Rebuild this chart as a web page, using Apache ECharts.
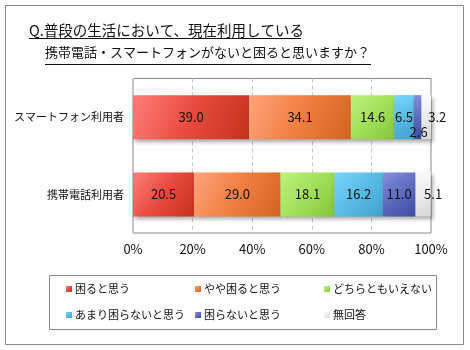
<!DOCTYPE html>
<html><head><meta charset="utf-8">
<script src="https://cdn.jsdelivr.net/npm/echarts@6/dist/echarts.min.js"></script>
<style>html,body{margin:0;padding:0;background:#fff}#c{width:470px;height:350px}</style>
</head><body><div id="c"></div>
<script>
const categories = ['スマートフォン利用者', '携帯電話利用者'];
const seriesNames = ['困ると思う', 'やや困ると思う', 'どちらともいえない', 'あまり困らないと思う', '困らないと思う', '無回答'];
const s1 = [39.0, 20.5];
const s2 = [34.1, 29.0];
const s3 = [14.6, 18.1];
const s4 = [6.5, 16.2];
const s5 = [2.6, 11.0];
const s6 = [3.2, 5.1];
const tickLabels = ['0%', '20%', '40%', '60%', '80%', '100%'];
const titleLine1 = 'Q.普段の生活において、現在利用している';
const titleLine2 = '携帯電話・スマートフォンがないと困ると思いますか？';

const seriesValues = [s1, s2, s3, s4, s5, s6];
const gradients = [
  ['#ff7d78', '#e84a3e', '#c4321c'],
  ['#ffa47a', '#f07e42', '#d2641e'],
  ['#bdf27a', '#a2e05a', '#86c43a'],
  ['#78d4fa', '#58bce6', '#3ea2cc'],
  ['#8490dc', '#5e6cc0', '#3c4aa0'],
  ['#fafafa', '#ececec', '#d6d6d6']
];
// label nudges for narrow segments (presentation only)
const labelOffsets = {
  '4-0': [1, 15],
  '5-0': [11, 0],
  '5-1': [10, 0]
};
const FONT = '"Noto Sans CJK JP", sans-serif';

const chart = echarts.init(document.getElementById('c'), null, {renderer: 'canvas'});
const series = seriesNames.map((name, si) => ({
  name: name,
  type: 'bar',
  stack: 'total',
  barWidth: 44,
  itemStyle: {
    color: new echarts.graphic.LinearGradient(0, 0, 1, 1, [
      {offset: 0, color: gradients[si][0]},
      {offset: 0.5, color: gradients[si][1]},
      {offset: 1, color: gradients[si][2]}
    ]),
    shadowColor: 'rgba(0,0,0,0.35)',
    shadowBlur: 4,
    shadowOffsetX: 2,
    shadowOffsetY: 3
  },
  label: {
    show: true,
    position: 'inside',
    color: '#111',
    fontSize: 13,
    fontFamily: FONT,
    formatter: p => p.value.toFixed(1)
  },
  data: seriesValues[si].map((v, ci) => {
    const off = labelOffsets[si + '-' + ci];
    return off ? {value: v, label: {offset: off}} : v;
  })
}));

const legendCommon = {
  orient: 'vertical',
  icon: 'rect',
  itemWidth: 6,
  itemHeight: 6,
  itemGap: 12,
  top: 277,
  textStyle: {fontSize: 11, fontFamily: FONT, color: '#111', lineHeight: 14, padding: [0, 0, 0, -2]}
};

chart.setOption({
  animation: false,
  textStyle: {fontFamily: FONT},
  grid: {left: 133, right: 39, top: 78.5, bottom: 117, outerBoundsMode: 'none', containLabel: false, show: true, borderColor: '#888', borderWidth: 1, backgroundColor: 'transparent'},
  xAxis: {
    type: 'value', min: 0, max: 100, interval: 20,
    axisLine: {show: false}, axisTick: {show: false},
    splitLine: {show: true, lineStyle: {type: [4, 3], color: '#c8c8c8'}},
    axisLabel: {fontSize: 13, fontFamily: FONT, color: '#111', margin: 10,
      formatter: v => tickLabels[Math.round(v / 20)]}
  },
  yAxis: {
    type: 'category', data: categories, inverse: true,
    axisLine: {show: false}, axisTick: {show: false},
    axisLabel: {fontSize: 11, fontFamily: FONT, color: '#111', margin: 9}
  },
  legend: [
    Object.assign({}, legendCommon, {left: 61, data: [seriesNames[0], seriesNames[3]]}),
    Object.assign({}, legendCommon, {left: 190, data: [seriesNames[1], seriesNames[4]]}),
    Object.assign({}, legendCommon, {left: 319, data: [seriesNames[2], seriesNames[5]]})
  ],
  graphic: [
    {type: 'rect', shape: {x: 5.5, y: 5.5, width: 458, height: 339}, style: {fill: 'none', stroke: '#888', lineWidth: 1}, silent: true},
    {type: 'rect', shape: {x: 49.5, y: 275.5, width: 387, height: 54}, style: {fill: 'none', stroke: '#888', lineWidth: 1}, silent: true},
    {type: 'text', left: 29, top: 23, style: {text: titleLine1, font: '14.5px "Noto Sans CJK JP", sans-serif', fill: '#111'}},
    {type: 'text', left: 45, top: 46, style: {text: titleLine2, font: '13px "Noto Sans CJK JP", sans-serif', fill: '#111'}},
    {type: 'line', shape: {x1: 29, y1: 38.5, x2: 301, y2: 38.5}, style: {stroke: '#111', lineWidth: 1}},
    {type: 'line', shape: {x1: 45, y1: 64.5, x2: 371, y2: 64.5}, style: {stroke: '#111', lineWidth: 1}}
  ],
  series: series
});
</script></body></html>
